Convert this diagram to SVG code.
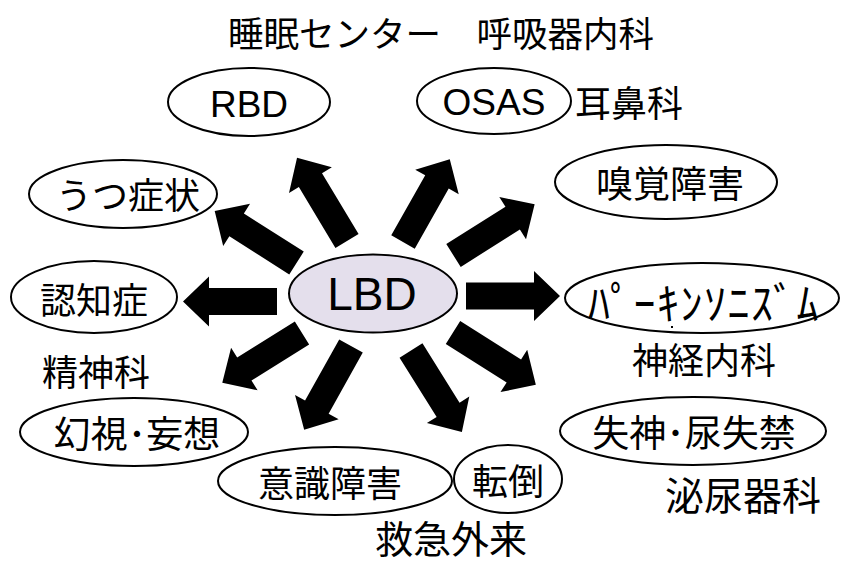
<svg xmlns="http://www.w3.org/2000/svg" width="843" height="563" viewBox="0 0 843 563">
<style>
.nd{fill:#fff;stroke:#000;stroke-width:2}
.c{fill:#E4DFEC;stroke:#000;stroke-width:2}
.j{font-family:"Noto Sans CJK JP","Noto Sans",sans-serif;font-size:36px;fill:#000}
.l{font-family:"Liberation Sans",Arial,sans-serif;font-size:37px;fill:#000}
.m{text-anchor:middle}
.arr{fill:#000}
</style>
<rect width="843" height="563" fill="#fff"/>
<g id="connectors">
<path class="arr" transform="translate(277,301.5) rotate(180)" d="M0,-13.5H68V-25L94,0L68,25V13.5H0Z"/>
<path class="arr" transform="translate(466,296) rotate(0)" d="M0,-13.5H68V-25L94,0L68,25V13.5H0Z"/>
<path class="arr" transform="translate(296.5,263) rotate(212.5)" d="M0,-13.5H71V-25L97,0L71,25V13.5H0Z"/>
<path class="arr" transform="translate(347,241) rotate(239)" d="M0,-13.5H71V-25L97,0L71,25V13.5H0Z"/>
<path class="arr" transform="translate(403,242) rotate(-60.5)" d="M0,-13.5H69V-25L95,0L69,25V13.5H0Z"/>
<path class="arr" transform="translate(453.5,255.5) rotate(-32.3)" d="M0,-13.5H70V-25L96,0L70,25V13.5H0Z"/>
<path class="arr" transform="translate(302,333) rotate(148)" d="M0,-13.5H68V-25L94,0L68,25V13.5H0Z"/>
<path class="arr" transform="translate(351,346) rotate(119.2)" d="M0,-13.5H70V-25L96,0L70,25V13.5H0Z"/>
<path class="arr" transform="translate(411,350.5) rotate(58)" d="M0,-13.5H70V-25L96,0L70,25V13.5H0Z"/>
<path class="arr" transform="translate(453,332.5) rotate(32.3)" d="M0,-13.5H72V-25L98,0L72,25V13.5H0Z"/>
</g>
<g id="lbd"><ellipse class="c" cx="373" cy="293.5" rx="84" ry="39"/><text class="l m" x="372" y="310" style="font-size:46px">LBD</text></g>
<g id="rbd"><ellipse class="nd" cx="249" cy="102" rx="81" ry="34"/><text class="l m" x="249" y="117">RBD</text></g>
<g id="osas"><ellipse class="nd" cx="494" cy="101" rx="77" ry="33"/><text class="l m" x="494" y="115">OSAS</text></g>
<g id="smell"><ellipse class="nd" cx="666" cy="182" rx="111" ry="37"/><text class="j m" x="670" y="198" style="font-size:37px">嗅覚障害</text></g>
<g id="depression"><ellipse class="nd" cx="123" cy="194" rx="94" ry="34"/><text class="j m" x="128" y="209">うつ症状</text></g>
<g id="dementia"><ellipse class="nd" cx="94" cy="297" rx="83" ry="36"/><text class="j m" x="94" y="314">認知症</text></g>
<g id="parkinsonism"><ellipse class="nd" cx="702" cy="298" rx="137" ry="35"/><text class="j" x="588" y="320" style="font-size:44px;letter-spacing:1.5px">ﾊﾟｰｷﾝｿﾆｽﾞﾑ</text><rect x="671" y="326" width="2" height="2" fill="#000"/></g>
<g id="hallucination"><ellipse class="nd" cx="134" cy="432" rx="114" ry="34"/><text class="j m" x="137" y="448" style="font-size:37px">幻視･妄想</text></g>
<g id="syncope"><ellipse class="nd" cx="693" cy="431" rx="133" ry="34"/><text class="j m" x="694" y="447" style="font-size:37px">失神･尿失禁</text></g>
<g id="consciousness"><ellipse class="nd" cx="335" cy="481" rx="117" ry="34"/><text class="j m" x="330" y="497">意識障害</text></g>
<g id="fall"><ellipse class="nd" cx="508" cy="479" rx="54" ry="34"/><text class="j m" x="508" y="495">転倒</text></g>
<g id="labels">
<text class="j" x="228" y="47" style="font-size:35.5px">睡眠センター　呼吸器内科</text>
<text class="j" x="575" y="117">耳鼻科</text>
<text class="j" x="42" y="386">精神科</text>
<text class="j" x="632" y="374">神経内科</text>
<text class="j" x="665" y="510" style="font-size:39px">泌尿器科</text>
<text class="j" x="375" y="553" style="font-size:38px">救急外来</text>
</g>
</svg>
